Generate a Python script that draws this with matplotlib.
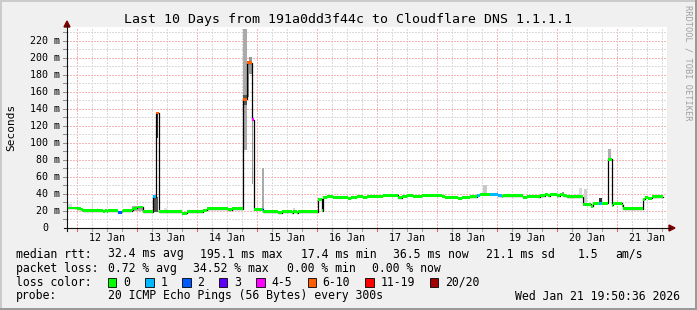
import numpy as np
import matplotlib
matplotlib.use("Agg")
import matplotlib.pyplot as plt
from matplotlib.lines import Line2D
from matplotlib.patches import Rectangle, Polygon

plt.rcParams['font.family'] = ['DejaVu Sans Mono', 'DejaVu Sans']

W, H = 697, 310

# time axis in days of January 2026 (graph ends Wed Jan 21 19:50:36)
t_end = 21 + (19 + 50 / 60 + 36 / 3600) / 24
t_start = t_end - 10

day_labels = ["12 Jan", "13 Jan", "14 Jan", "15 Jan", "16 Jan",
              "17 Jan", "18 Jan", "19 Jan", "20 Jan", "21 Jan"]
day_noon = [12.5, 13.5, 14.5, 15.5, 16.5, 17.5, 18.5, 19.5, 20.5, 21.5]

y_ticks = [0, 20, 40, 60, 80, 100, 120, 140, 160, 180, 200, 220]
y_labels = ["0", "20 m", "40 m", "60 m", "80 m", "100 m", "120 m",
            "140 m", "160 m", "180 m", "200 m", "220 m"]

loss_names = ["0", "1", "2", "3", "4-5", "6-10", "11-19", "20/20"]
loss_colors = ["#00ff00", "#00b8ff", "#0059ff", "#5e00ff",
               "#ff00fe", "#ff5e00", "#ff0000", "#a10000"]

# median rtt (ms), step series: start day, value, loss class index
med_start = [11.827, 11.994, 12.055, 12.099, 12.422, 12.460, 12.488, 12.515,
             12.682, 12.739, 12.765, 12.905, 12.932, 12.989, 13.089, 13.099,
             13.266, 13.316, 13.355, 13.738, 13.822, 14.099, 14.155, 14.515,
             14.572, 14.755, 14.765, 14.822, 14.910, 14.943, 15.077, 15.099,
             15.349, 15.405, 15.572, 15.599, 15.655, 15.682, 16.005, 16.072,
             16.099, 16.155, 16.265, 16.515, 16.555, 16.655, 16.765, 16.822,
             17.099, 17.349, 17.405, 17.489, 17.599, 17.739, 18.072, 18.127,
             18.349, 18.405, 18.544, 18.655, 18.710, 18.877, 19.015, 19.072,
             19.099, 19.432, 19.489, 19.655, 19.710, 19.794, 19.849, 19.877,
             19.989, 20.044, 20.099, 20.155, 20.432, 20.560, 20.599, 20.699,
             20.739, 20.849, 20.905, 20.932, 21.072, 21.099, 21.432, 21.460,
             21.515, 21.572]
med_ms = [23.5, 22.8, 21.4, 20.2, 19.5, 20.2, 19.5, 20.2,
          18.4, 19.6, 20.2, 21.5, 23.4, 24.6, 23.0, 19.0,
          36.6, 135.0, 19.0, 17.2, 19.0, 21.0, 22.6, 21.6,
          22.6, 23.7, 151.0, 194.0, 127.0, 22.2, 22.2, 19.1,
          17.9, 19.1, 18.0, 19.1, 18.0, 19.1, 33.5, 20.2,
          36.3, 37.4, 36.3, 34.7, 36.3, 37.4, 36.0, 37.4,
          38.6, 35.5, 37.4, 38.6, 37.5, 38.6, 37.4, 35.9,
          34.8, 36.3, 36.6, 38.2, 39.4, 39.4, 38.0, 37.0,
          37.8, 36.0, 37.5, 36.8, 37.8, 39.4, 37.8, 39.4,
          37.8, 39.4, 37.8, 36.6, 27.7, 25.7, 28.9, 28.9,
          28.9, 80.7, 26.9, 28.9, 26.9, 22.6, 33.9, 35.9,
          35.0, 36.6]
med_loss = [0, 0, 0, 0, 0, 0, 0, 0,
            2, 0, 0, 0, 0, 0, 0, 0,
            1, 5, 0, 0, 0, 0, 0, 0,
            0, 1, 5, 5, 4, 0, 1, 0,
            0, 0, 0, 0, 0, 0, 0, 0,
            0, 0, 0, 0, 0, 0, 0, 0,
            0, 0, 0, 0, 0, 0, 0, 0,
            0, 0, 0, 1, 0, 1, 1, 0,
            0, 0, 0, 0, 0, 0, 0, 0,
            0, 0, 0, 0, 0, 0, 0, 1,
            0, 0, 0, 0, 0, 0, 0, 0,
            0, 0]
med_last = 21.765

# smoke: spread of the 20 pings per interval
smoke_start = [11.844, 12.238, 12.322, 12.594, 12.905, 13.266, 13.311, 13.444,
               13.544, 14.765, 14.765, 14.822, 14.855, 14.905, 15.072, 15.599,
               17.838, 18.766, 20.072, 20.238, 20.360, 20.444, 20.699, 20.849]
smoke_end = [11.905, 12.265, 12.349, 12.660, 13.094, 13.339, 13.344, 13.489,
             13.594, 14.822, 14.822, 14.855, 14.905, 14.932, 15.110, 15.627,
             17.877, 18.822, 20.110, 20.265, 20.405, 20.489, 20.739, 20.889]
smoke_lo = [24, 21, 20, 20, 20, 19, 106, 19,
            19, 92, 144, 154, 181, 52, 22, 19,
            38, 39.4, 38, 37, 37, 28, 29, 80]
smoke_hi = [28, 28, 24, 22, 26, 36.6, 134, 23,
            21, 234, 156, 194, 201, 130, 70, 23,
            40, 50, 42, 40, 47, 46, 35, 93]
smoke_shade = ["#dcdcdc", "#d8d8d8", "#e0e0e0", "#e0e0e0", "#aaaaaa", "#555555",
               "#333333", "#dddddd", "#e4e4e4", "#aaaaaa", "#555555", "#8a8a8a",
               "#999999", "#999999", "#aaaaaa", "#d4d4d4", "#dddddd", "#c8c8c8",
               "#999999", "#dddddd", "#d8d8d8", "#d0d0d0", "#333333", "#b0b0b0"]


def fx(x):
    return x / W


def fy(y):
    return 1 - y / H


fig = plt.figure(figsize=(W / 100, H / 100), dpi=100, facecolor="#f0f0f0")
ax = fig.add_axes([fx(67), fy(228), 600 / W, 201 / H])
ax.set_facecolor("white")
ax.set_xlim(t_start, t_end)
ax.set_ylim(0, 236)
for s in ax.spines.values():
    s.set_visible(False)
ax.set_xticks([])
ax.set_yticks([])

# grid
dot = (0, (1, 1))
minor_col, major_col = "#dadada", "#f4b6b6"
minor_x = np.arange(12, 22, 0.25)
minor_x = minor_x[(minor_x % 1 != 0) & (minor_x < t_end)]
ax.vlines(minor_x, 0, 236, colors=minor_col, lw=0.75, linestyles=dot, zorder=1, antialiased=False)
ax.vlines(np.arange(12, 22), 0, 236, colors=major_col, lw=0.75, linestyles=dot, zorder=1, antialiased=False)
ax.hlines(np.arange(10, 236, 20), t_start, t_end, colors=minor_col, lw=0.75, linestyles=dot, zorder=1, antialiased=False)
ax.hlines(np.arange(20, 236, 20), t_start, t_end, colors=major_col, lw=0.75, linestyles=dot, zorder=1, antialiased=False)

# smoke
smoke_start = np.array(smoke_start)
smoke_lo = np.array(smoke_lo)
ax.bar(smoke_start, np.array(smoke_hi) - smoke_lo, width=np.array(smoke_end) - smoke_start,
       bottom=smoke_lo, align="edge", color=smoke_shade, linewidth=0, zorder=2)

# median line + loss coloured band
med_start = np.array(med_start)
med_ms = np.array(med_ms)
seg_end = np.append(med_start[1:], med_last)
ax.step(np.append(med_start, med_last), np.append(med_ms, med_ms[-1]), where="post",
        color="black", lw=0.9, zorder=3)
hw = 1.7
ax.bar(med_start, 2 * hw, width=seg_end - med_start, bottom=med_ms - hw, align="edge",
       color=[loss_colors[c] for c in med_loss], linewidth=0, zorder=4)

# axes lines and arrows
fig.add_artist(Line2D([fx(64), fx(670)], [fy(228), fy(228)], color="#101010", lw=0.8))
fig.add_artist(Line2D([fx(67), fx(67)], [fy(231), fy(25)], color="#101010", lw=0.8))
fig.add_artist(Polygon([(fx(669), fy(225)), (fx(675), fy(228)), (fx(669), fy(231))],
                       closed=True, color="#7f0000", transform=fig.transFigure))
fig.add_artist(Polygon([(fx(64), fy(27)), (fx(67), fy(21)), (fx(70), fy(27))],
                       closed=True, color="#7f0000", transform=fig.transFigure))

# tick marks
for v in np.arange(10, 236, 10):
    ax.plot([-4 / 600, 0], [v, v], transform=ax.get_yaxis_transform(), clip_on=False,
            color="#909090", lw=0.75)
for t in np.arange(12, 22, 0.25):
    if t < t_end:
        col = "#e06060" if t % 1 == 0 else "#a0a0a0"
        ax.plot([t, t], [0, -3 / 201], transform=ax.get_xaxis_transform(), clip_on=False,
                color=col, lw=0.75)

# tick labels
for v, lab in zip(y_ticks, y_labels):
    xr = 60 if lab.endswith("m") else 48
    ax.text((xr - 67) / 600, v, lab, transform=ax.get_yaxis_transform(),
            ha="right", va="center", fontsize=7.2)
for t, lab in zip(day_noon, day_labels):
    ax.text(t, -10 / 201, lab, transform=ax.get_xaxis_transform(),
            ha="center", va="center", fontsize=7.2)

# titles
fig.text(fx(348), fy(19), "Last 10 Days from 191a0dd3f44c to Cloudflare DNS 1.1.1.1",
         ha="center", va="center", fontsize=9.55)
fig.text(fx(11), fy(127), "Seconds", rotation=90, ha="center", va="center", fontsize=8)
fig.text(fx(688), fy(5), "RRDTOOL / TOBI OETIKER", rotation=270, ha="center", va="top",
         fontsize=6.2, color="#a0a0a0")

# legend
fs = 8.3
rows = [
    (254, [(15.6, "median rtt:"), (107.6, "32.4 ms avg"), (200, "195.1 ms max"),
           (301, "17.4 ms min"), (393, "36.5 ms now"), (486, "21.1 ms sd"),
           (578, "1.5"), (615, "am/s")]),
    (268.3, [(15.6, "packet loss:"), (107.6, "0.72 % avg"), (193.3, "34.52 % max"),
             (286.7, "0.00 % min"), (372.4, "0.00 % now")]),
    (282.3, [(15.6, "loss color:")]),
    (296, [(15.6, "probe:"), (107.6, "20 ICMP Echo Pings (56 Bytes) every 300s")]),
]
for y, items in rows:
    for x, s in items:
        fig.text(fx(x), fy(y), s, ha="left", va="center", fontsize=fs)
fig.text(fx(680), fy(296), "Wed Jan 21 19:50:36 2026", ha="right", va="center", fontsize=fs)

sq_x = [108, 145.3, 182.2, 219, 256.4, 307.6, 365.3, 430]
for x, col, name in zip(sq_x, loss_colors, loss_names):
    fig.add_artist(Rectangle((fx(x), fy(286.7)), 8.4 / W, 8.4 / H, facecolor=col,
                             edgecolor="black", lw=0.6, transform=fig.transFigure))
    fig.text(fx(x + 15), fy(282.3), name, ha="left", va="center", fontsize=fs)

# 3d border
fig.add_artist(Rectangle((0, fy(2)), 1, 2 / H, color="#cbcbcb", transform=fig.transFigure, lw=0))
fig.add_artist(Rectangle((0, 0), 2 / W, 1, color="#cbcbcb", transform=fig.transFigure, lw=0))
fig.add_artist(Rectangle((0, 0), 1, 2 / H, color="#999999", transform=fig.transFigure, lw=0))
fig.add_artist(Rectangle((fx(695), 0), 2 / W, 1, color="#999999", transform=fig.transFigure, lw=0))

fig.savefig("out.png", dpi=100, facecolor=fig.get_facecolor())
